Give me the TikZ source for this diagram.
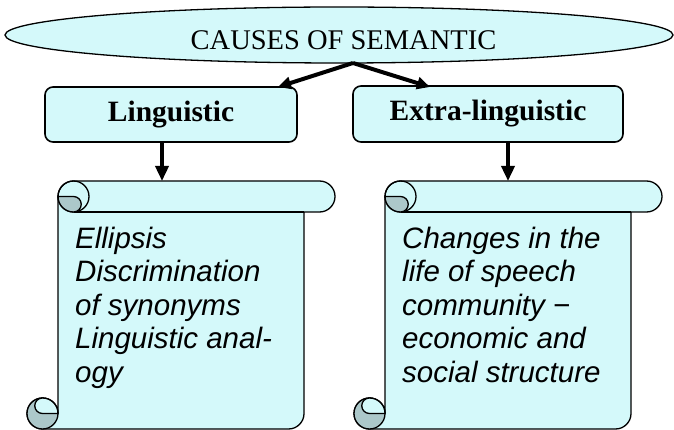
\documentclass[tikz,border=0pt]{standalone}
\usepackage{fontspec}
\setmainfont{Liberation Serif}
\newfontfamily\scrollfont{Liberation Sans}
\usetikzlibrary{arrows.meta,shapes.geometric}

\definecolor{paper}{RGB}{212,249,250}
\definecolor{rollshade}{RGB}{172,200,202}

% Vertical scroll: #1 left, #2 top, #3 right, #4 bottom (roll diameter 31)
\newcommand\scrollsheet[4]{%
  \path[sheet] (#1+31,#2+15.5) arc[start angle=180,end angle=270,radius=15.5]
    -- (#3-15.5,#2) arc[start angle=270,end angle=450,radius=15.5]
    -- (#3-31,#2+31) -- (#3-31,#4-15.5) arc[start angle=0,end angle=90,radius=15.5]
    -- (#1+15.5,#4) arc[start angle=90,end angle=360,radius=15.5] -- cycle;
  % upper roll
  \draw[rollline] (#1+46.5,#2+31) -- (#3-31,#2+31);
  \draw[rollline] (#1+46.5,#2+15.5) circle[radius=15.5];
  \path[rollfill] (#1+31,#2+15.5) -- (#1+46.5,#2+15.5)
    arc[start angle=270,end angle=450,radius=7.75]
    arc[start angle=90,end angle=180,radius=15.5] -- cycle;
  % lower roll
  \path[rollfill] (#1+15.5,#4-15.5) circle[radius=15.5];
  \path[sheet] (#1+31,#4-15.5) -- (#1+15.5,#4-15.5)
    arc[start angle=90,end angle=270,radius=7.75]
    arc[start angle=270,end angle=360,radius=15.5] -- cycle;
}

\begin{document}
\begin{tikzpicture}[x=1pt,y=-1pt,
  sheet/.style={fill=paper,draw=black,line width=1.3pt,line join=round},
  rollline/.style={draw=black,line width=1.3pt},
  rollfill/.style={fill=rollshade,draw=black,line width=1.3pt,line join=round},
  causebox/.style={draw=black,fill=paper,line width=1.6pt,rounded corners=8pt,
    inner sep=0pt,font=\fontsize{29.5}{34}\selectfont\bfseries},
  scrolltext/.style={inner sep=0pt,align=left,anchor=north west,
    font=\fontsize{29.5}{33.4}\selectfont\scrollfont\itshape},
  bigarrow/.style={line width=4pt,-{Triangle[length=13pt,width=12pt]}},
  downarrow/.style={line width=3.5pt,-{Triangle[length=15pt,width=13pt]}}]

\useasboundingbox (0,0) rectangle (674,430);

% title ellipse
\node[ellipse,draw=black,fill=paper,line width=1.3pt,inner sep=0pt,
  minimum width=668pt,minimum height=56pt] (top) at (339,35) {};
\node[anchor=base,inner sep=0pt,font=\fontsize{28.5}{34}\selectfont] (title)
  at (343.5,49.5) {CAUSES OF SEMANTIC};

% the two kinds of causes
\node[causebox,minimum width=252pt,minimum height=55pt] (ling) at (171,114.5) {Linguistic};
\node[causebox,minimum width=270pt,minimum height=56pt] (extra) at (488,114) {Extra-linguistic};

% scrolls
\scrollsheet{27}{181}{335}{429}
\scrollsheet{354}{181}{662}{429}

\node[scrolltext] (ltext) at (75,227)
  {Ellipsis\\Discrimination\\of synonyms\\Linguistic anal-\\ogy};
\node[scrolltext] (rtext) at (402,227)
  {Changes in the\\life of speech\\community −\\economic and\\social structure};

% connectors
\coordinate (apex) at (353,63);
\coordinate (linghit) at (278,87);
\coordinate (extrahit) at (430,87);
\coordinate (lscroll) at (162,181);
\coordinate (rscroll) at (508,181);

\draw[bigarrow] (apex) -- (linghit);
\draw[bigarrow] (apex) -- (extrahit);
\draw[downarrow] (ling.south -| lscroll) -- (lscroll);
\draw[downarrow] (extra.south -| rscroll) -- (rscroll);
\end{tikzpicture}
\end{document}
